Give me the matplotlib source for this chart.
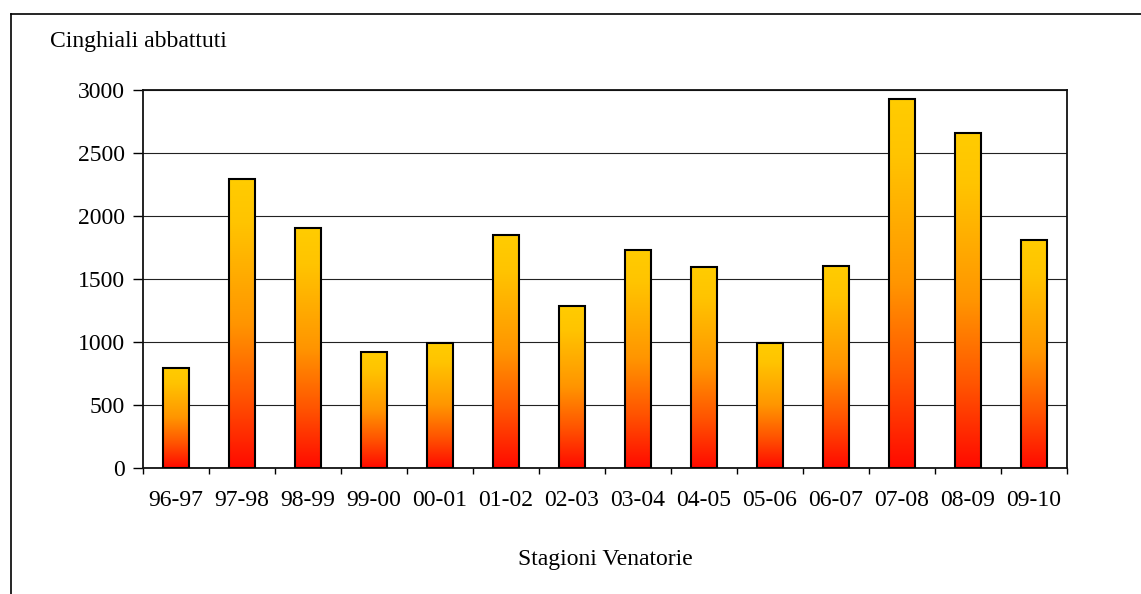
import numpy as np
import matplotlib.pyplot as plt
from matplotlib.colors import LinearSegmentedColormap
from matplotlib.lines import Line2D

# stagioni venatorie e cinghiali abbattuti
stagioni = ['96-97', '97-98', '98-99', '99-00', '00-01', '01-02', '02-03',
            '03-04', '04-05', '05-06', '06-07', '07-08', '08-09', '09-10']
abbattuti = [795, 2290, 1905, 920, 988, 1845, 1288,
             1733, 1592, 988, 1605, 2930, 2655, 1812]
y_ticks = [0, 500, 1000, 1500, 2000, 2500, 3000]

plt.rcParams['font.family'] = ['Liberation Serif', 'DejaVu Serif']
plt.rcParams['font.size'] = 17

fig = plt.figure(figsize=(11.41, 5.94), dpi=100)
ax = fig.add_axes([143 / 1141, 1 - 467.7 / 594, (1067 - 143) / 1141, (467.7 - 90) / 594])

# gradient yellow (top) -> red (bottom), per bar
fire = LinearSegmentedColormap.from_list(
    'fire', [(0.0, '#ff0a00'), (0.25, '#ff5500'), (0.5, '#ff9500'),
             (0.85, '#ffc400'), (1.0, '#ffcc00')])
grad = np.linspace(0, 1, 256).reshape(-1, 1)

x = np.arange(len(stagioni))
bars = ax.bar(x, abbattuti, width=0.4, facecolor='none', edgecolor='black',
              linewidth=1.5, zorder=3)
for b in bars:
    bx, bw, bh = b.get_x(), b.get_width(), b.get_height()
    im = ax.imshow(grad, cmap=fire, aspect='auto', origin='lower',
                   extent=(bx, bx + bw, 0, bh), zorder=2, interpolation='bilinear')
    im.set_clip_path(b)

ax.set_xlim(-0.5, len(stagioni) - 0.5)
ax.set_ylim(0, 3000)
ax.set_yticks(y_ticks)
ax.yaxis.grid(True, color='#222222', linewidth=0.8)
ax.set_axisbelow(True)

ax.set_xticks(np.arange(-0.5, len(stagioni), 1.0))
ax.set_xticklabels([])
ax.set_xticks(x, minor=True)
ax.set_xticklabels(stagioni, minor=True)
ax.tick_params(axis='x', which='major', direction='out', length=4.5, width=1)
ax.tick_params(axis='x', which='minor', length=0, pad=16)
ax.tick_params(axis='y', direction='out', length=7, width=1, pad=6)

for s in ax.spines.values():
    s.set_linewidth(1.3)
    s.set_color('#111111')

fig.text(50 / 1141, 1 - 42 / 594, 'Cinghiali abbattuti', ha='left', va='center')
fig.text(605 / 1141, 1 - 560 / 594, 'Stagioni Venatorie', ha='center', va='center')

# cornice esterna del grafico
fig.add_artist(Line2D([11 / 1141, 1.0], [1 - 14 / 594, 1 - 14 / 594],
                      transform=fig.transFigure, color='black', linewidth=1.2))
fig.add_artist(Line2D([11 / 1141, 11 / 1141], [0.0, 1 - 14 / 594],
                      transform=fig.transFigure, color='black', linewidth=1.2))

fig.savefig('out.png', dpi=100)
